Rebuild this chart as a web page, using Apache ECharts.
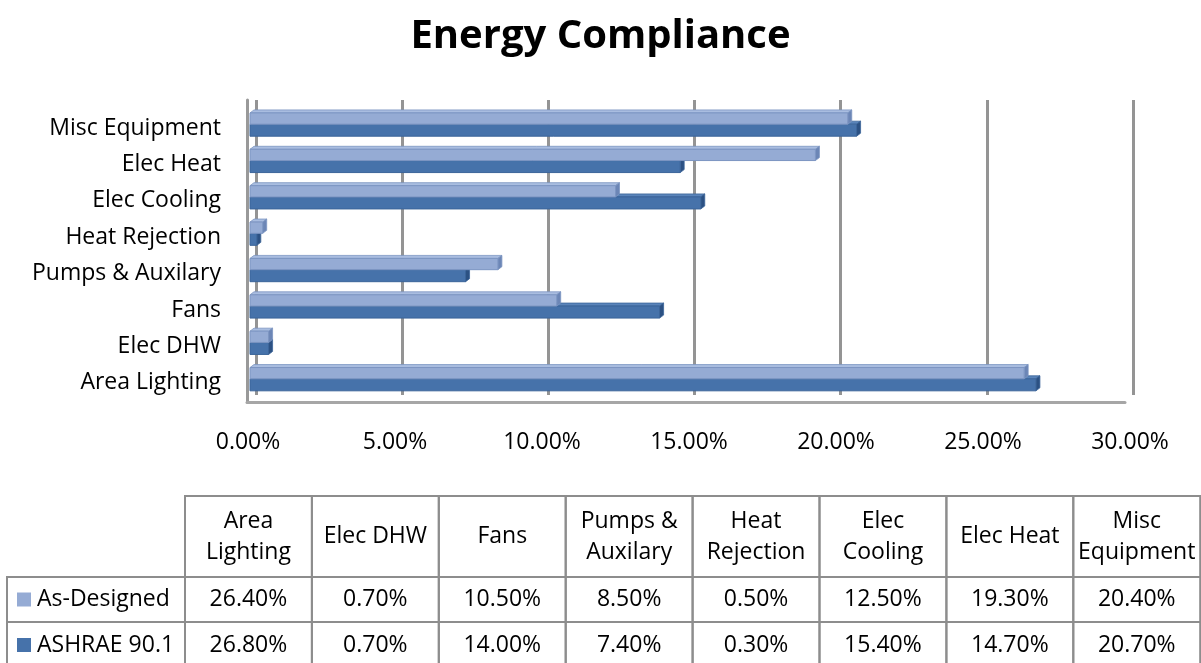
<!DOCTYPE html>
<html>
<head>
<meta charset="utf-8">
<title>Energy Compliance</title>
<script src="https://cdn.jsdelivr.net/npm/echarts@6/dist/echarts.min.js"></script>
<style>
  html, body { margin: 0; padding: 0; background: #ffffff; }
  #chart { width: 1201px; height: 663px; }
</style>
</head>
<body>
<div id="chart"></div>
<script>
// End-use categories, listed bottom-to-top on the chart and left-to-right in the table
const categories = ['Area Lighting', 'Elec DHW', 'Fans', 'Pumps & Auxilary', 'Heat Rejection', 'Elec Cooling', 'Elec Heat', 'Misc Equipment'];
// Header text for the data table (wrapped as in the cells)
const tableHeaders = ['Area\nLighting', 'Elec DHW', 'Fans', 'Pumps &\nAuxilary', 'Heat\nRejection', 'Elec\nCooling', 'Elec Heat', 'Misc\nEquipment'];
// Share of total energy, percent
const asDesigned = [26.4, 0.7, 10.5, 8.5, 0.5, 12.5, 19.3, 20.4];
const ashrae901 = [26.8, 0.7, 14.0, 7.4, 0.3, 15.4, 14.7, 20.7];
const seriesNames = ['As-Designed', 'ASHRAE 90.1'];
// Value-axis ticks
const axisMin = 0, axisMax = 30, axisStep = 5;

const FONT = '"Open Sans", "Noto Sans", sans-serif';
const LIGHT = { face: '#95abd4', top: '#a9bde0', side: '#6c86b6', edge: '#7c95c2' };
const DARK = { face: '#4672aa', top: '#5a84ba', side: '#2c5183', edge: '#3b6499' };
const GRID_GREY = '#949494';

// Flat bar with a shallow depth face on top and at its end
function makeRender(colors, upper) {
  return function (params, api) {
    const val = api.value(0);
    const cat = api.value(1);
    const start = api.coord([0, cat]);
    const end = api.coord([val, cat]);
    const band = api.size([0, 1])[1];
    const c = start[1];
    const y0 = upper ? c - 0.42 * band : c - 0.11 * band;
    const y1 = upper ? c - 0.11 * band : c + 0.22 * band;
    const x0 = start[0] + 2;
    const x1 = Math.max(end[0], x0 + 1);
    const d = 4, h = 3;
    return {
      type: 'group',
      children: [
        { type: 'polygon', shape: { points: [[x0, y0], [x0 + d, y0 - h], [x1 + d, y0 - h], [x1, y0]] },
          style: { fill: colors.top, stroke: colors.edge, lineWidth: 0.8 } },
        { type: 'polygon', shape: { points: [[x1, y0], [x1 + d, y0 - h], [x1 + d, y1 - h], [x1, y1]] },
          style: { fill: colors.side, stroke: colors.edge, lineWidth: 0.8 } },
        { type: 'rect', shape: { x: x0, y: y0, width: x1 - x0, height: y1 - y0 },
          style: { fill: colors.face, stroke: colors.edge, lineWidth: 1 } }
      ]
    };
  };
}

// Data table under the chart, built from the same arrays
function buildTable() {
  const els = [];
  const colLeft = 185, colW = 126.9;
  const rows = [496, 577, 622, 668];
  const labelLeft = 7;
  const border = { stroke: '#8d8d8d', lineWidth: 2, fill: 'none' };
  const textStyle = (txt, x, y) => ({
    type: 'text',
    style: { text: txt, x: x, y: y, align: 'center', verticalAlign: 'middle',
             textAlign: 'center', textVerticalAlign: 'middle',
             font: '23px ' + FONT, fill: '#000', lineHeight: 31 }
  });
  // header row
  tableHeaders.forEach((hd, i) => {
    const x = colLeft + i * colW;
    els.push({ type: 'rect', shape: { x: x, y: rows[0], width: colW, height: rows[1] - rows[0] }, style: border });
    els.push(textStyle(hd, x + colW / 2, (rows[0] + rows[1]) / 2));
  });
  // data rows
  const rowData = [asDesigned, ashrae901];
  const keyColors = [LIGHT.face, DARK.face];
  rowData.forEach((vals, r) => {
    const yTop = rows[r + 1], yBot = rows[r + 2];
    const yMid = (yTop + yBot) / 2;
    els.push({ type: 'rect', shape: { x: labelLeft, y: yTop, width: colLeft - labelLeft, height: yBot - yTop }, style: border });
    els.push({ type: 'rect', shape: { x: 17, y: yMid - 7, width: 14, height: 14 }, style: { fill: keyColors[r] } });
    els.push({
      type: 'text',
      style: { text: seriesNames[r], x: 37, y: yMid, align: 'left', verticalAlign: 'middle',
               textAlign: 'left', textVerticalAlign: 'middle', font: '23px ' + FONT, fill: '#000' }
    });
    vals.forEach((v, i) => {
      const x = colLeft + i * colW;
      els.push({ type: 'rect', shape: { x: x, y: yTop, width: colW, height: yBot - yTop }, style: border });
      els.push(textStyle(v.toFixed(2) + '%', x + colW / 2, yMid));
    });
  });
  return els;
}

const chart = echarts.init(document.getElementById('chart'));
chart.setOption({
  backgroundColor: '#ffffff',
  animation: false,
  title: {
    text: 'Energy Compliance',
    left: 'center',
    top: 12,
    textStyle: { fontFamily: FONT, fontWeight: 'bold', fontSize: 40, color: '#000' }
  },
  grid: [
    // bars
    { left: 248, right: 71, top: 110, bottom: 262 },
    // back wall with gridlines
    { left: 256, right: 68, top: 100, bottom: 268 },
    // front edges of the plot box
    { left: 247, right: 76, top: 100, bottom: 261 }
  ],
  xAxis: [
    {
      gridIndex: 0, type: 'value', min: axisMin, max: axisMax, interval: axisStep,
      axisLine: { show: false }, axisTick: { show: false }, splitLine: { show: false },
      axisLabel: {
        margin: 30, color: '#000', fontFamily: FONT, fontSize: 23,
        formatter: v => v.toFixed(2) + '%'
      }
    },
    {
      gridIndex: 1, type: 'value', min: axisMin, max: axisMax, interval: axisStep,
      axisLine: { show: false }, axisTick: { show: false }, axisLabel: { show: false },
      splitLine: { show: true, lineStyle: { color: GRID_GREY, width: 3 } }
    },
    {
      gridIndex: 2, type: 'value', min: axisMin, max: axisMax, interval: axisStep,
      axisLine: { show: true, lineStyle: { color: '#a6a6a6', width: 3 } },
      axisTick: { show: false }, axisLabel: { show: false }, splitLine: { show: false }
    }
  ],
  yAxis: [
    {
      gridIndex: 0, type: 'category', data: categories,
      axisLine: { show: false }, axisTick: { show: false }, splitLine: { show: false },
      axisLabel: { margin: 27, color: '#000', fontFamily: FONT, fontSize: 23 }
    },
    {
      gridIndex: 1, type: 'category', data: categories,
      axisLine: { show: false }, axisTick: { show: false }, axisLabel: { show: false }, splitLine: { show: false }
    },
    {
      gridIndex: 2, type: 'category', data: categories,
      axisLine: { show: true, lineStyle: { color: '#999999', width: 3 } },
      axisTick: { show: false }, axisLabel: { show: false }, splitLine: { show: false }
    }
  ],
  series: [
    {
      name: seriesNames[1], type: 'custom', xAxisIndex: 0, yAxisIndex: 0, z: 3,
      encode: { x: 0, y: 1 },
      renderItem: makeRender(DARK, false),
      data: ashrae901.map((v, i) => [v, i])
    },
    {
      name: seriesNames[0], type: 'custom', xAxisIndex: 0, yAxisIndex: 0, z: 4,
      encode: { x: 0, y: 1 },
      renderItem: makeRender(LIGHT, true),
      data: asDesigned.map((v, i) => [v, i])
    }
  ],
  graphic: buildTable()
});
</script>
</body>
</html>
